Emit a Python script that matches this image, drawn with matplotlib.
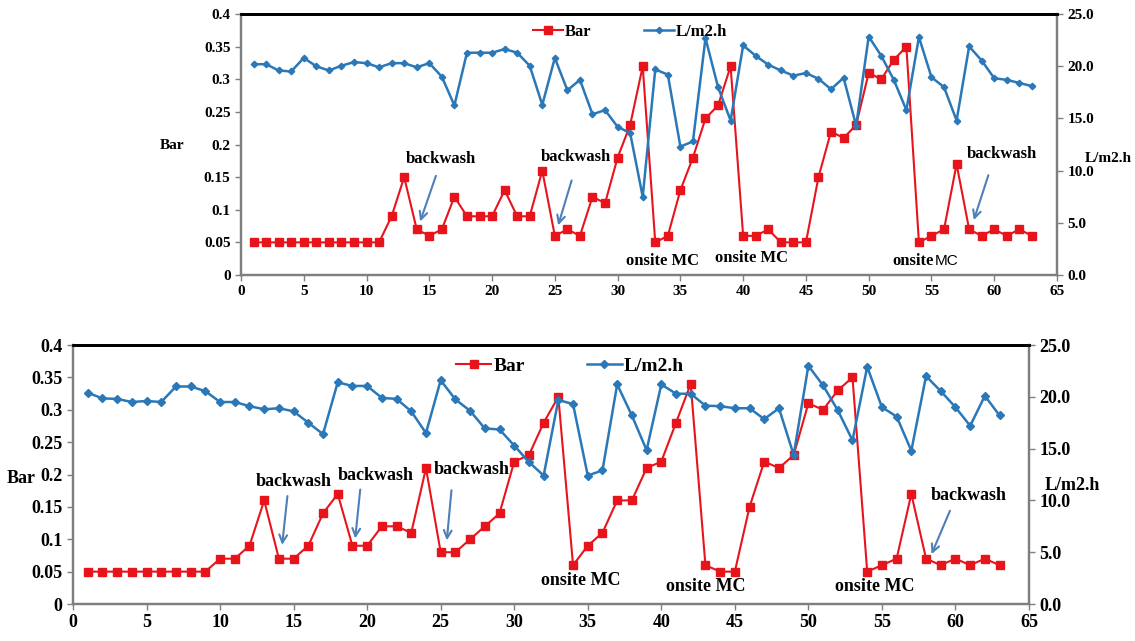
import matplotlib.pyplot as plt

plt.rcParams['font.family'] = ['Liberation Serif', 'DejaVu Serif']
plt.rcParams['font.weight'] = 'bold'
plt.rcParams['axes.labelweight'] = 'bold'

x = list(range(1, 64))

# top panel
bar_top = [0.05, 0.05, 0.05, 0.05, 0.05, 0.05, 0.05, 0.05, 0.05, 0.05,
           0.05, 0.09, 0.15, 0.07, 0.06, 0.07, 0.12, 0.09, 0.09, 0.09,
           0.13, 0.09, 0.09, 0.16, 0.06, 0.07, 0.06, 0.12, 0.11, 0.18,
           0.23, 0.32, 0.05, 0.06, 0.13, 0.18, 0.24, 0.26, 0.32, 0.06,
           0.06, 0.07, 0.05, 0.05, 0.05, 0.15, 0.22, 0.21, 0.23, 0.31,
           0.30, 0.33, 0.35, 0.05, 0.06, 0.07, 0.17, 0.07, 0.06, 0.07,
           0.06, 0.07, 0.06]
flux_top = [20.2, 20.2, 19.6, 19.5, 20.8, 20.0, 19.6, 20.05, 20.4, 20.3,
            19.9, 20.3, 20.3, 19.9, 20.3, 19.0, 16.25, 21.3, 21.3, 21.3,
            21.65, 21.3, 20.05, 16.3, 20.8, 17.7, 18.7, 15.4, 15.8, 14.2,
            13.6, 7.5, 19.7, 19.2, 12.3, 12.8, 22.7, 18.0, 14.8, 22.0,
            21.0, 20.15, 19.6, 19.1, 19.35, 18.8, 17.8, 18.9, 14.3, 22.85,
            21.0, 18.7, 15.8, 22.8, 18.95, 18.0, 14.8, 21.9, 20.55, 18.85,
            18.7, 18.4, 18.1]

# bottom panel
bar_bot = [0.05, 0.05, 0.05, 0.05, 0.05, 0.05, 0.05, 0.05, 0.05, 0.07,
           0.07, 0.09, 0.16, 0.07, 0.07, 0.09, 0.14, 0.17, 0.09, 0.09,
           0.12, 0.12, 0.11, 0.21, 0.08, 0.08, 0.10, 0.12, 0.14, 0.22,
           0.23, 0.28, 0.32, 0.06, 0.09, 0.11, 0.16, 0.16, 0.21, 0.22,
           0.28, 0.34, 0.06, 0.05, 0.05, 0.15, 0.22, 0.21, 0.23, 0.31,
           0.30, 0.33, 0.35, 0.05, 0.06, 0.07, 0.17, 0.07, 0.06, 0.07,
           0.06, 0.07, 0.06]
flux_bot = [20.4, 19.85, 19.8, 19.5, 19.6, 19.5, 21.0, 21.0, 20.55, 19.5,
            19.5, 19.1, 18.8, 18.9, 18.6, 17.5, 16.4, 21.4, 21.05, 21.05,
            19.9, 19.8, 18.6, 16.5, 21.6, 19.75, 18.65, 16.95, 16.85, 15.3,
            13.7, 12.4, 19.7, 19.3, 12.4, 12.9, 21.2, 18.2, 14.85, 21.2,
            20.3, 20.3, 19.15, 19.1, 18.9, 18.9, 17.85, 18.9, 14.4, 23.0,
            21.1, 18.7, 15.8, 22.9, 19.0, 18.1, 14.8, 22.0, 20.55, 19.0,
            17.2, 20.1, 18.2]

left_ticks = [0, 0.05, 0.1, 0.15, 0.2, 0.25, 0.3, 0.35, 0.4]
left_labels = ['0', '0.05', '0.1', '0.15', '0.2', '0.25', '0.3', '0.35', '0.4']
right_ticks = [0, 5, 10, 15, 20, 25]
right_labels = ['0.0', '5.0', '10.0', '15.0', '20.0', '25.0']
x_ticks = list(range(0, 70, 5))

RED = '#e8141c'
BLUE = '#2a78b8'
ARROW = '#4f7fb8'

fig = plt.figure(figsize=(11.35, 6.41), dpi=100)


def panel(rect, bar, flux, fs, ms, label_pos, rlabel_pos, leg_x):
    ax = fig.add_axes(rect)
    ax2 = ax.twinx()
    l1, = ax.plot(x, bar, '-s', color=RED, lw=1.5, ms=ms, label='Bar')
    l2, = ax2.plot(x, flux, '-D', color=BLUE, lw=1.8, ms=ms * 0.62, label='L/m2.h')
    ax.set_xlim(0, 65)
    ax.set_ylim(0, 0.4)
    ax2.set_ylim(0, 25)
    ax.set_xticks(x_ticks)
    ax.set_xticklabels([str(t) for t in x_ticks], fontweight='bold')
    ax.set_yticks(left_ticks)
    ax.set_yticklabels(left_labels, fontweight='bold')
    ax2.set_yticks(right_ticks)
    ax2.set_yticklabels(right_labels, fontweight='bold')
    for a in (ax, ax2):
        a.tick_params(labelsize=fs, length=4, width=1, color='#808080')
        for s in a.spines.values():
            s.set_color('#7f7f7f')
            s.set_linewidth(1.6)
        a.spines['top'].set_color('black')
        a.spines['top'].set_linewidth(2)
    ax.set_ylabel('Bar', rotation=0, fontsize=fs, fontweight='bold')
    ax.yaxis.set_label_coords(*label_pos)
    ax2.set_ylabel('L/m2.h', rotation=0, fontsize=fs, fontweight='bold')
    ax2.yaxis.set_label_coords(*rlabel_pos)
    ax2.legend([l1, l2], ['Bar', 'L/m2.h'], loc='upper center',
               bbox_to_anchor=(leg_x, 1.02), ncol=2, frameon=False,
               prop={'size': fs + 1, 'weight': 'bold'}, handlelength=1.8,
               columnspacing=3.2, handletextpad=0.1)
    return ax


def note(ax, text, pos, fs):
    ax.text(pos[0], pos[1], text, ha='center', va='center', fontsize=fs,
            fontweight='bold')


def arrow(ax, tail, head):
    ax.annotate('', xy=head, xytext=tail,
                arrowprops=dict(arrowstyle='->', color=ARROW, lw=1.5,
                                mutation_scale=14))


# ---- top chart
ax = panel([0.2123, 0.571, 0.719, 0.407], bar_top, flux_top, 11, 5.3,
           (-0.085, 0.47), (1.063, 0.47), 0.477)
note(ax, 'backwash', (15.9, 0.178), 12)
arrow(ax, (15.6, 0.156), (14.2, 0.078))
note(ax, 'backwash', (26.7, 0.181), 12)
arrow(ax, (26.4, 0.149), (25.2, 0.072))
note(ax, 'backwash', (60.6, 0.185), 12)
arrow(ax, (59.6, 0.157), (58.3, 0.08))
note(ax, 'onsite MC', (33.6, 0.021), 12)
note(ax, 'onsite MC', (40.7, 0.026), 12)
ax.text(55.15, 0.021, 'onsite', ha='right', va='center', fontsize=12,
        fontweight='bold')
ax.text(55.3, 0.021, 'MC', ha='left', va='center', fontsize=11,
        fontweight='normal', family=['Liberation Sans'])

# ---- bottom chart
ax = panel([0.0643, 0.0577, 0.8423, 0.404], bar_bot, flux_bot, 13, 6.2,
           (-0.054, 0.45), (1.045, 0.49), 0.52)
note(ax, 'backwash', (15.0, 0.19), 13)
arrow(ax, (14.6, 0.171), (14.2, 0.087))
note(ax, 'backwash', (20.6, 0.198), 13)
arrow(ax, (19.55, 0.181), (19.17, 0.097))
note(ax, 'backwash', (27.1, 0.208), 13)
arrow(ax, (25.75, 0.18), (25.4, 0.094))
note(ax, 'backwash', (60.9, 0.167), 13)
arrow(ax, (59.7, 0.148), (58.3, 0.073))
note(ax, 'onsite MC', (34.5, 0.036), 13)
note(ax, 'onsite MC', (43.0, 0.027), 13)
note(ax, 'onsite MC', (54.5, 0.027), 13)

fig.savefig('out.png', dpi=100)
